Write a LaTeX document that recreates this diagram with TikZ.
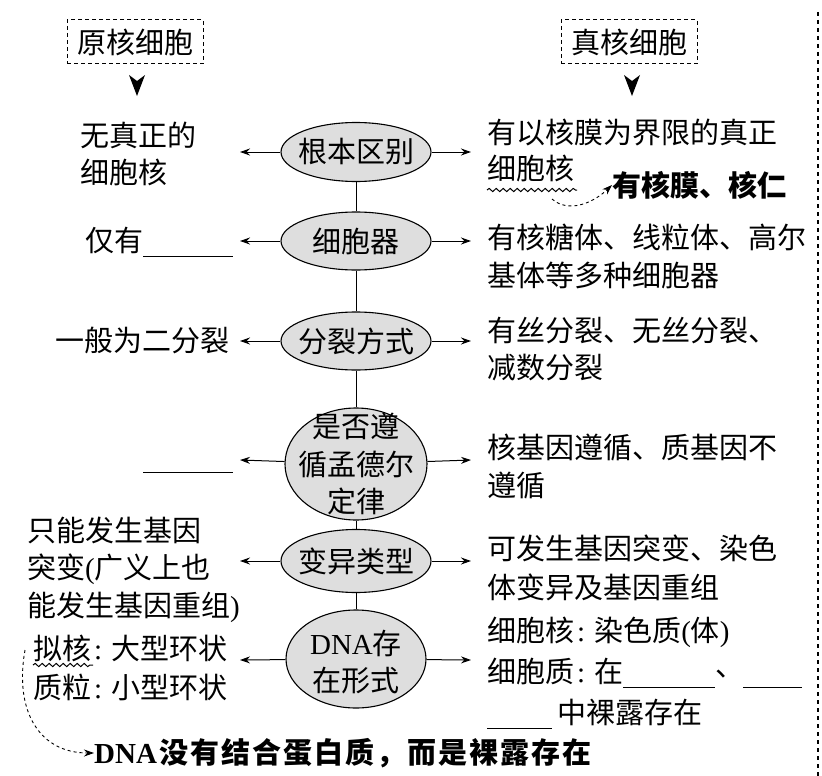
\documentclass[tikz,border=0pt]{standalone}
\usepackage{fontspec}
\setmainfont{Noto Sans CJK SC}
\newfontfamily\latf{Liberation Serif}
\usetikzlibrary{shapes.geometric,arrows.meta,decorations.pathmorphing}
\newcommand{\Lt}[1]{{\latf #1}}
\newcommand{\cln}{\hspace{3pt}{\latf :}\hspace{9pt}}
\begin{document}
\begin{tikzpicture}[x=1pt,y=-1pt,
  font=\fontsize{29}{37.5}\selectfont,
  ell/.style={ellipse, draw, line width=1.1pt, fill=black!13, inner sep=0pt},
  txt/.style={anchor=base west, inner sep=0pt, align=left},
  arr/.style={-{Stealth[length=10pt,width=7pt]}, line width=1pt},
  dbox/.style={draw, dash pattern=on 4pt off 3pt, line width=1pt, minimum width=136pt, minimum height=44pt, inner sep=0pt},
  wavy/.style={decorate, decoration={snake, amplitude=1.6pt, segment length=7pt}, line width=1pt},
  blank/.style={line width=1pt}]
\useasboundingbox (0,0) rectangle (822,776);

% header boxes
\node[dbox] (pk) at (135,42) {原核细胞};
\node[dbox] (ek) at (629,42) {真核细胞};
\fill (129,75) -- (137,81) -- (145,75) -- (137,96) -- cycle;
\fill (624,75) -- (632,81) -- (640,75) -- (632,96) -- cycle;

% ellipses
\node[ell, minimum width=150pt, minimum height=59pt, label=center:{根本区别}] (e1) at (356,152) {};
\node[ell, minimum width=150pt, minimum height=58pt, label=center:{细胞器}] (e2) at (356,241) {};
\node[ell, minimum width=150pt, minimum height=58pt, label=center:{分裂方式}] (e3) at (356,341) {};
\node[ell, minimum width=142pt, minimum height=112pt, label={[align=center]center:{是否遵\\循孟德尔\\定律}}] (e4) at (356,464) {};
\node[ell, minimum width=150pt, minimum height=63pt, label=center:{变异类型}] (e5) at (356,561) {};
\node[ell, minimum width=140pt, minimum height=98pt, label={[align=center, yshift=-3pt]center:{\Lt{DNA}存\\在形式}}] (e6) at (356,659) {};

\draw[line width=1pt] (e1) -- (e2);
\draw[line width=1pt] (e2) -- (e3);
\draw[line width=1pt] (e3) -- (e4);
\draw[line width=1pt] (e4) -- (e5);
\draw[line width=1pt] (e5) -- (e6);

% arrow ends
\coordinate (L1) at (240,152); \coordinate (R1) at (471,152);
\coordinate (L2) at (240,241); \coordinate (R2) at (471,241);
\coordinate (L3) at (240,341); \coordinate (R3) at (471,341);
\coordinate (L4) at (240,460); \coordinate (R4) at (471,460);
\coordinate (L5) at (240,561); \coordinate (R5) at (471,561);
\coordinate (L6) at (240,660); \coordinate (R6) at (471,660);
\foreach \i in {1,...,6}{
  \draw[arr] (e\i) -- (L\i);
  \draw[arr] (e\i) -- (R\i);
}

% left texts (base = last line baseline)
\node[txt] (l1) at (80,183.5) {无真正的\\细胞核};
\node[txt] (l2) at (85,251) {仅有};
\draw[blank] (143,256) -- (233,256);
\node[txt] (l3) at (55,351) {一般为二分裂};
\draw[blank] (143,472) -- (233,472);
\node[txt] (l5) at (27,616) {只能发生基因\\突变\Lt{(}广义上也\\能发生基因重组\Lt{)}};
\node[txt, font=\fontsize{29}{39}\selectfont] (l6) at (33,698) {拟核\cln 大型环状\\质粒\cln 小型环状};
\draw[wavy] (33,665) -- (93,665);

% right texts
\node[txt, font=\fontsize{29}{36}\selectfont] (r1) at (487,179) {有以核膜为界限的真正\\细胞核};
\draw[wavy] (487,190) -- (577,190);
\node[anchor=west, inner sep=0pt, font=\fontsize{29}{37}\selectfont\bfseries] (hm) at (612,185) {有核膜、核仁};
\coordinate (c1) at (552,199);
\draw[dashed, arr, line width=0.9pt] (c1) .. controls (568,213) and (592,204) .. (hm.west);

\node[txt, font=\fontsize{29}{38}\selectfont] (r2) at (487,286) {有核糖体、线粒体、高尔\\基体等多种细胞器};
\node[txt] (r3) at (487,378.5) {有丝分裂、无丝分裂、\\减数分裂};
\node[txt, font=\fontsize{29}{38}\selectfont] (r4) at (487,496) {核基因遵循、质基因不\\遵循};
\node[txt, font=\fontsize{29}{39}\selectfont] (r5) at (487,598) {可发生基因突变、染色\\体变异及基因重组};
\node[txt] (r6) at (487,641) {细胞核\cln 染色质\Lt{(}体\Lt{)}};
\node[txt] (r7) at (487,682) {细胞质\cln 在};
\draw[blank] (623,687) -- (715,687);
\node[txt] (r8) at (715,676) {、};
\draw[blank] (743,687) -- (802,687);
\draw[blank] (487,728) -- (552,728);
\node[txt] (r9) at (557,723) {中裸露存在};

% bottom note
\node[anchor=west, inner sep=0pt, font=\fontsize{29}{37}\selectfont\bfseries] (bt) at (94,753) {\Lt{DNA}\hspace{2pt}没\hspace{2pt}有\hspace{2pt}结\hspace{2pt}合\hspace{2pt}蛋\hspace{2pt}白\hspace{2pt}质\hspace{2pt}，\hspace{2pt}而\hspace{2pt}是\hspace{2pt}裸\hspace{2pt}露\hspace{2pt}存\hspace{2pt}在};
\coordinate (c2) at (25,650);
\draw[dashed, arr, line width=0.9pt] (c2) .. controls (14,712) and (40,753) .. (bt.west);

% page edge
\draw[dash pattern=on 4pt off 4pt, line width=1.2pt] (818,12) -- (818,776);
\end{tikzpicture}
\end{document}
